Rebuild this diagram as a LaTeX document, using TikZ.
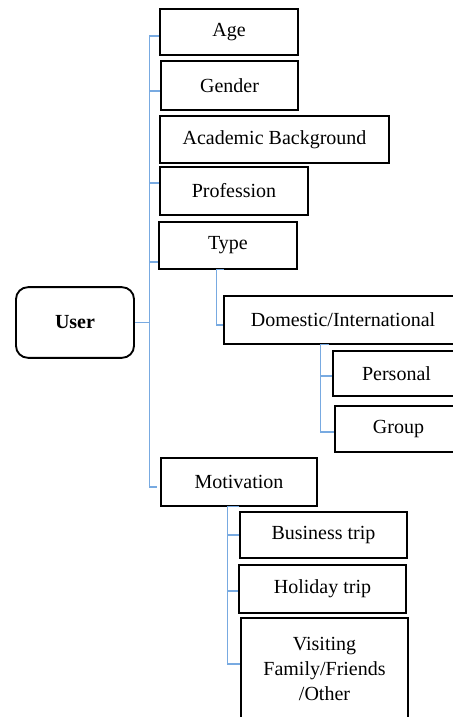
\documentclass[tikz,border=0pt]{standalone}
\usepackage{fontspec}
\setmainfont{Liberation Serif}
\newfontfamily\boxfont{Liberation Serif}
\usetikzlibrary{calc}
\definecolor{linkblue}{RGB}{120,170,225}

\begin{document}
\begin{tikzpicture}[
  x=0.75pt, y=-0.75pt,
  item/.style={draw, line width=1.4pt, font=\boxfont\fontsize{15}{18.75}\selectfont, align=center, inner sep=0pt},
  root/.style={item, rounded corners=9pt, font=\boxfont\fontsize{15}{18.75}\selectfont\bfseries},
  link/.style={draw=linkblue, line width=0.8pt},
]
  \useasboundingbox (0,0) rectangle (453,717);
  \clip (0,0) rectangle (453,717);

  % root
  \node[root, minimum width=88.5pt, minimum height=53pt] (user) at (75,322.5) {User};

  % first level
  \node[item, minimum width=103.5pt, minimum height=34.5pt] (age) at (229,32) {Age};
  \node[item, minimum width=102.75pt, minimum height=36.75pt] (gender) at (229.5,85.5) {Gender};
  \node[item, minimum width=171.75pt, minimum height=35.25pt] (academic) at (274.5,139.5) {Academic Background};
  \node[item, minimum width=111pt, minimum height=36pt] (profession) at (234,191) {Profession};
  \node[item, minimum width=103.5pt, minimum height=35.25pt] (type) at (228,245.5) {Type};
  \node[item, minimum width=117pt, minimum height=36pt] (motivation) at (239,482) {Motivation};

  % under type
  \node[item, minimum width=178.5pt, minimum height=36pt] (domestic) at (343,320) {Domestic/International};
  \node[item, minimum width=95.25pt, minimum height=33.75pt] (personal) at (396.5,373.5) {Personal};
  \node[item, minimum width=95.25pt, minimum height=34.5pt] (group) at (398.5,429) {Group};

  % under motivation
  \node[item, minimum width=125.25pt, minimum height=34.5pt] (business) at (323.5,535) {Business trip};
  \node[item, minimum width=125.25pt, minimum height=36pt] (holiday) at (322.5,589) {Holiday trip};
  \node[item, minimum width=125.25pt, minimum height=76.5pt] (visiting) at (324.5,669) {Visiting\\Family/Friends\\/Other};

  % main trunk
  \coordinate (trunktop) at ($(age.west)+(-10,4)$);
  \coordinate (trunkend) at ($(motivation.west)+(-11,5)$);
  \draw[link] (age.west |- trunktop) -- (trunktop) -- (trunkend) -- ($(trunkend)+(8,0)$);
  \draw[link] (user.east) -- (user.east -| trunktop);

  \coordinate (gtick) at ($(gender.west)+(0,5.5)$);
  \coordinate (ptick) at ($(profession.west)+(0,-8)$);
  \coordinate (ttick) at ($(type.west)+(0,16.5)$);
  \draw[link] (gtick -| trunktop) -- (gtick);
  \draw[link] (ptick -| trunktop) -- (ptick);
  \draw[link] (ttick -| trunktop) -- (ttick);

  % type branch
  \coordinate (typefork) at ($(type.south west)+(58,0)$);
  \draw[link] ($(typefork)+(8,0)$) -- (typefork) |- ($(domestic.west)+(0,5)$);

  % domestic branch
  \coordinate (domfork) at ($(domestic.south west)+(97,0)$);
  \coordinate (perstick) at ($(personal.west)+(0,2.5)$);
  \draw[link] ($(domfork)+(9,0)$) -- (domfork) |- ($(group.west)+(0,3)$);
  \draw[link] (perstick -| domfork) -- (perstick);

  % motivation branch
  \coordinate (motfork) at ($(motivation.south west)+(67,0)$);
  \coordinate (holtick) at ($(holiday.west)+(0,2)$);
  \draw[link] ($(motfork)+(12,0)$) -- (motfork) |- ($(visiting.west)+(0,-5)$);
  \draw[link] (motfork |- business.west) -- (business.west);
  \draw[link] (holtick -| motfork) -- (holtick);
\end{tikzpicture}
\end{document}
